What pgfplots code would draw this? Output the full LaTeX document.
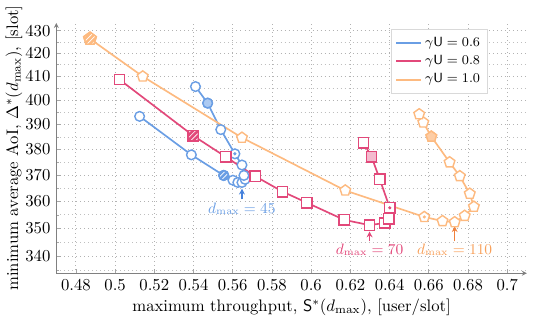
\documentclass[border=0pt]{standalone}
\usepackage{pgfplots}
\pgfplotsset{compat=1.18}
\usetikzlibrary{patterns,arrows.meta}
\definecolor{cb}{RGB}{106,158,228}
\definecolor{cbf}{RGB}{172,202,242}
\definecolor{cba}{RGB}{70,130,220}
\definecolor{cp}{RGB}{226,72,122}
\definecolor{cpf}{RGB}{244,186,206}
\definecolor{co}{RGB}{253,186,128}
\definecolor{cof}{RGB}{253,205,165}
\definecolor{coa}{RGB}{240,128,60}
\definecolor{cot}{RGB}{248,160,90}
\makeatletter
\pgfdeclareplotmark{hcircle}{%
  \pgfpathcircle{\pgfpointorigin}{\pgfplotmarksize}\pgfusepathqfillstroke
  \pgfsetfillpattern{north east lines}{white}%
  \pgfpathcircle{\pgfpointorigin}{0.9\pgfplotmarksize}\pgfusepathqfill
  \pgfpathcircle{\pgfpointorigin}{\pgfplotmarksize}\pgfusepathqstroke}
\pgfdeclareplotmark{hsquare}{%
  \pgfpathrectangle{\pgfqpoint{-\pgfplotmarksize}{-\pgfplotmarksize}}{\pgfqpoint{2\pgfplotmarksize}{2\pgfplotmarksize}}\pgfusepathqfillstroke
  \pgfsetfillpattern{north east lines}{white}%
  \pgfpathrectangle{\pgfqpoint{-0.85\pgfplotmarksize}{-0.85\pgfplotmarksize}}{\pgfqpoint{1.7\pgfplotmarksize}{1.7\pgfplotmarksize}}\pgfusepathqfill
  \pgfpathrectangle{\pgfqpoint{-\pgfplotmarksize}{-\pgfplotmarksize}}{\pgfqpoint{2\pgfplotmarksize}{2\pgfplotmarksize}}\pgfusepathqstroke}
\pgfdeclareplotmark{hpentagon}{%
  \def\pentpath##1{%
  \pgfpathmoveto{\pgfqpointpolar{90}{##1\pgfplotmarksize}}%
  \pgfpathlineto{\pgfqpointpolar{162}{##1\pgfplotmarksize}}%
  \pgfpathlineto{\pgfqpointpolar{234}{##1\pgfplotmarksize}}%
  \pgfpathlineto{\pgfqpointpolar{306}{##1\pgfplotmarksize}}%
  \pgfpathlineto{\pgfqpointpolar{18}{##1\pgfplotmarksize}}%
  \pgfpathclose}%
  \pentpath{1.2}\pgfusepathqfillstroke
  \pgfsetfillpattern{north east lines}{white}%
  \pentpath{1.05}\pgfusepathqfill
  \pentpath{1.2}\pgfusepathqstroke}
\makeatother
\begin{document}
\begin{tikzpicture}
\begin{axis}[
  scale only axis,
  clip=false,
  width=282pt, height=150pt,
  xmin=0.47, xmax=0.71,
  ymode=log, ymin=334, ymax=433.5,
  log ticks with fixed point,
  xtick={0.48,0.5,...,0.701},
  xticklabels={0.48,0.5,0.52,0.54,0.56,0.58,0.6,0.62,0.64,0.66,0.68,0.7},
  ytick={340,350,360,370,380,390,400,410,420,430},
  yticklabels={340,350,360,370,380,390,400,410,420,430},
  minor ytick={335,345,355,365,375,385,395,405,415,425},
  axis lines=left,
  axis line style={gray, line width=0.75pt, -{Stealth[length=3pt,width=3pt]}},
  tick align=inside,
  tick style={gray!70, line width=0.4pt},
  major tick length=2.8pt, minor tick length=1.6pt,
  grid=both,
  major grid style={dotted, gray!60, line width=0.5pt},
  minor grid style={dotted, gray!50, line width=0.5pt},
  xlabel={maximum throughput, $\mathsf{S}^{*}(d_{\max})$, [user/slot]},
  ylabel={minimum average AoI, $\Delta^{*}(d_{\max})$, [slot]},
  xlabel style={yshift=2pt},
  ylabel style={yshift=-5pt},
  legend style={at={(0.711,0.976)}, anchor=north west, draw=gray!30, line width=0.4pt, row sep=0pt, inner sep=2.5pt, font=\footnotesize},
  legend cell align=left,
  legend image code/.code={\draw[#1, mark=none, line width=1.1pt] (0cm,0cm) -- (0.52cm,0cm);},
]
% gamma U = 0.6
\addplot[cb, line width=1pt, mark=*, mark size=2.9pt, mark options={solid, fill=white, line width=0.85pt}] coordinates {
(0.5125,393.4) (0.5389,377.9) (0.5554,369.9) (0.5601,368.0) (0.5626,367.2)
(0.5647,367.2) (0.5663,368.4) (0.5657,369.9) (0.5647,373.9) (0.5611,378.3)
(0.5539,388.0) (0.5472,398.8) (0.5410,405.7)};
\addlegendentry{$\gamma\mathsf{U} = 0.6$}
% gamma U = 0.8
\addplot[cp, line width=1pt, mark=square*, mark size=3.1pt, mark options={solid, fill=white, line width=0.85pt}] coordinates {
(0.5022,408.7) (0.5399,385.5) (0.5564,377.1) (0.5714,369.6) (0.5854,363.7)
(0.5978,359.5) (0.6169,353.1) (0.6298,351.2) (0.6375,352.0) (0.6396,353.5)
(0.6401,357.6) (0.6350,368.4) (0.6308,377.1) (0.6267,382.7)};
\addlegendentry{$\gamma\mathsf{U} = 0.8$}
% gamma U = 1.0
\addplot[co, line width=1pt, mark=pentagon*, mark size=3.35pt, mark options={solid, fill=white, line width=0.85pt}] coordinates {
(0.4872,426.4) (0.5141,410.0) (0.5647,384.7) (0.6174,364.1) (0.6577,354.2)
(0.6670,352.7) (0.6732,352.3) (0.6783,354.6) (0.6830,358.0) (0.6809,362.9)
(0.6758,369.6) (0.6706,375.0) (0.6613,385.1) (0.6572,390.9) (0.6551,394.2)};
\addlegendentry{$\gamma\mathsf{U} = 1.0$}
% special markers: filled
\addplot[forget plot, only marks, mark=*, mark size=2.9pt, mark options={draw=cb, fill=cbf, line width=0.85pt}] coordinates {(0.5472,398.8)};
\addplot[forget plot, only marks, mark=square*, mark size=3.1pt, mark options={draw=cp, fill=cpf, line width=0.85pt}] coordinates {(0.6308,377.1)};
\addplot[forget plot, only marks, mark=pentagon*, mark size=3.35pt, mark options={draw=co, fill=cof, line width=0.85pt}] coordinates {(0.6613,385.1)};
% hatched
\addplot[forget plot, only marks, mark=hcircle, mark size=2.9pt, mark options={draw=cb, fill=cb, line width=0.85pt}] coordinates {(0.5554,369.9)};
\addplot[forget plot, only marks, mark=hsquare, mark size=3.1pt, mark options={draw=cp, fill=cp, line width=0.85pt}] coordinates {(0.5399,385.5)};
\addplot[forget plot, only marks, mark=hpentagon, mark size=3.35pt, mark options={draw=co, fill=co, line width=0.85pt}] coordinates {(0.4872,426.4)};
% dotted centres
\addplot[forget plot, only marks, mark=*, mark size=0.75pt, mark options={draw=cb, fill=cb}] coordinates {(0.5611,378.3)};
\addplot[forget plot, only marks, mark=*, mark size=0.75pt, mark options={draw=cp, fill=cp}] coordinates {(0.6401,357.6)};
\addplot[forget plot, only marks, mark=*, mark size=0.75pt, mark options={draw=co, fill=co}] coordinates {(0.6577,354.2)};
% annotations
\draw[cba, line width=0.85pt, -{Stealth[length=3.5pt,width=3.5pt]}] (axis cs:0.5647,360.8) -- (axis cs:0.5647,364.8);
\node[cb, font=\small] at (axis cs:0.5647,357.2) {$d_{\max} = 45$};
\draw[cp, line width=0.85pt, -{Stealth[length=3.5pt,width=3.5pt]}] (axis cs:0.6298,345.3) -- (axis cs:0.6298,348.9);
\node[cp, font=\small] at (axis cs:0.6298,342.3) {$d_{\max} = 70$};
\draw[coa, line width=0.85pt, -{Stealth[length=3.5pt,width=3.5pt]}] (axis cs:0.6732,345.3) -- (axis cs:0.6732,350.8);
\node[cot, font=\small] at (axis cs:0.6732,342.3) {$d_{\max} = 110$};
\path (rel axis cs:1,1) ++(7.3pt,13pt) coordinate (bbtr);
\end{axis}
\end{tikzpicture}
\end{document}
